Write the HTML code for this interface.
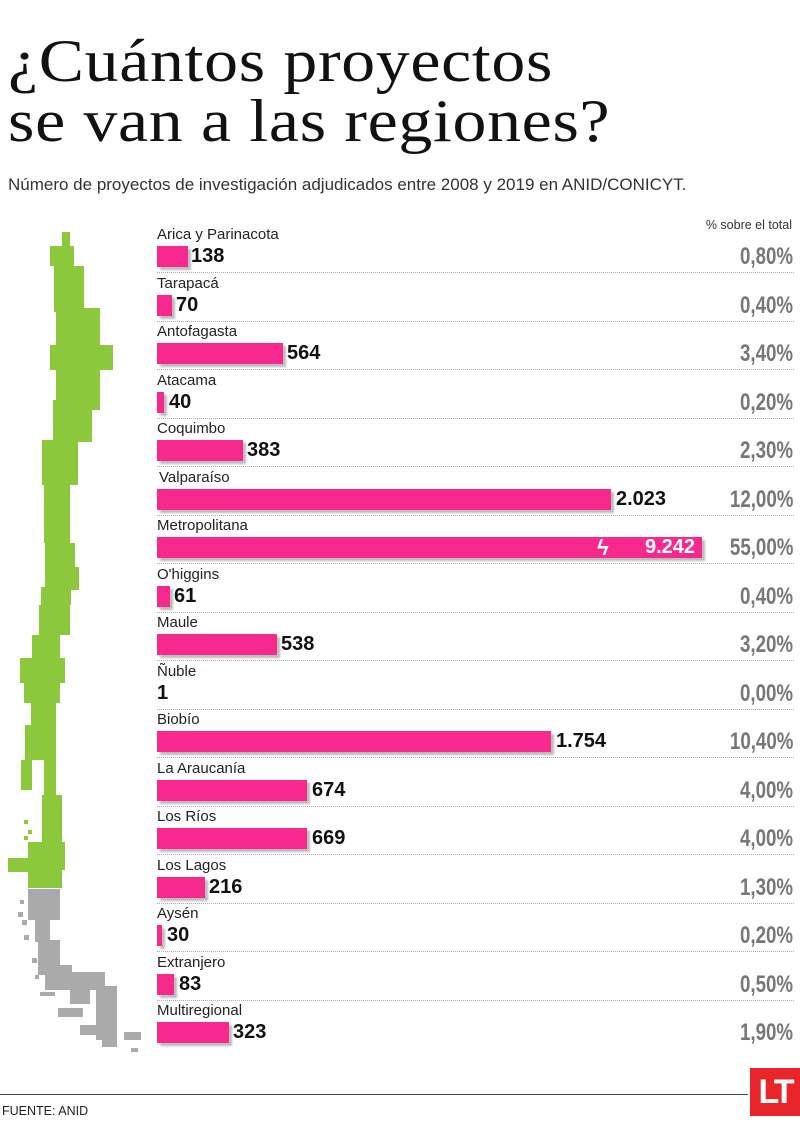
<!DOCTYPE html>
<html><head><meta charset="utf-8"><style>
body{margin:0;width:800px;height:1136px;background:#fff;position:relative;overflow:hidden;font-family:"Liberation Sans",sans-serif}
.t{position:absolute;left:8px;font-family:"Liberation Serif",serif;font-size:60px;color:#111;letter-spacing:0.6px;line-height:1;transform:scaleX(1.13);transform-origin:left;white-space:nowrap}
.sub{position:absolute;left:8px;top:175px;font-size:17px;color:#333;white-space:nowrap}
.lab{position:absolute;left:157px;font-size:15px;color:#222}
.bar{position:absolute;left:157px;height:21px;background:#f7288e;box-shadow:3px 3px 2px #bbb}
.val{position:absolute;font-size:20px;font-weight:bold;color:#111}
.pct{position:absolute;right:7px;font-family:"Liberation Sans Narrow","Liberation Sans",sans-serif;font-size:24px;font-weight:bold;color:#777;transform:scaleX(0.78);transform-origin:right}
.sep{position:absolute;left:157px;right:6px;border-top:1px dotted #aaa}
.m{position:absolute;background:#8cc83c}
.g{position:absolute;background:#aaa}
</style></head><body>
<div class="t" style="top:31px">¿Cuántos proyectos</div>
<div class="t" style="top:91px">se van a las regiones?</div>
<div class="sub">Número de proyectos de investigación adjudicados entre 2008 y 2019 en ANID/CONICYT.</div>
<div style="position:absolute;right:8px;top:218px;font-size:12.5px;color:#333">% sobre el total</div>

<!-- map -->
<div class="m" style="left:62px;top:232px;width:8px;height:16px"></div>
<div class="m" style="left:50px;top:246px;width:24px;height:20px"></div>
<div class="m" style="left:54px;top:266px;width:30px;height:46px"></div>
<div class="m" style="left:56px;top:308px;width:44px;height:40px"></div>
<div class="m" style="left:50px;top:345px;width:63px;height:25px"></div>
<div class="m" style="left:56px;top:370px;width:44px;height:40px"></div>
<div class="m" style="left:53px;top:400px;width:39px;height:42px"></div>
<div class="m" style="left:42px;top:440px;width:36px;height:45px"></div>
<div class="m" style="left:44px;top:485px;width:26px;height:58px"></div>
<div class="m" style="left:45px;top:543px;width:30px;height:47px"></div>
<div class="m" style="left:49px;top:567px;width:30px;height:23px"></div>
<div class="m" style="left:41px;top:587px;width:30px;height:18px"></div>
<div class="m" style="left:39px;top:605px;width:31px;height:30px"></div>
<div class="m" style="left:32px;top:635px;width:28px;height:25px"></div>
<div class="m" style="left:20px;top:658px;width:45px;height:25px"></div>
<div class="m" style="left:24px;top:683px;width:36px;height:20px"></div>
<div class="m" style="left:31px;top:703px;width:25px;height:32px"></div>
<div class="m" style="left:25px;top:725px;width:31px;height:35px"></div>
<div class="m" style="left:44px;top:750px;width:12px;height:50px"></div>
<div class="m" style="left:21px;top:760px;width:11px;height:30px"></div>
<div class="m" style="left:42px;top:795px;width:20px;height:47px"></div>
<div class="m" style="left:28px;top:842px;width:37px;height:28px"></div>
<div class="m" style="left:8px;top:858px;width:52px;height:14px"></div>
<div class="m" style="left:28px;top:870px;width:34px;height:18px"></div>
<div class="m" style="left:24px;top:820px;width:4px;height:4px"></div>
<div class="m" style="left:28px;top:830px;width:4px;height:4px"></div>
<div class="m" style="left:24px;top:836px;width:4px;height:4px"></div>
<!-- gray -->
<div class="g" style="left:28px;top:889px;width:32px;height:31px"></div>
<div class="g" style="left:35px;top:920px;width:15px;height:22px"></div>
<div class="g" style="left:38px;top:940px;width:22px;height:35px"></div>
<div class="g" style="left:45px;top:965px;width:27px;height:25px"></div>
<div class="g" style="left:60px;top:972px;width:45px;height:18px"></div>
<div class="g" style="left:96px;top:986px;width:21px;height:54px"></div>
<div class="g" style="left:70px;top:990px;width:20px;height:14px"></div>
<div class="g" style="left:58px;top:1008px;width:25px;height:9px"></div>
<div class="g" style="left:80px;top:1025px;width:37px;height:10px"></div>
<div class="g" style="left:102px;top:1035px;width:15px;height:12px"></div>
<div class="g" style="left:124px;top:1032px;width:17px;height:8px"></div>
<div class="g" style="left:131px;top:1048px;width:7px;height:4px"></div>
<div class="g" style="left:20px;top:900px;width:4px;height:4px"></div>
<div class="g" style="left:18px;top:912px;width:5px;height:5px"></div>
<div class="g" style="left:22px;top:920px;width:5px;height:5px"></div>
<div class="g" style="left:24px;top:935px;width:5px;height:5px"></div>
<div class="g" style="left:32px;top:958px;width:5px;height:5px"></div>
<div class="g" style="left:35px;top:975px;width:4px;height:4px"></div>
<div class="g" style="left:40px;top:992px;width:15px;height:4px"></div>

<!-- rows -->
<div class="lab" style="top:226px">Arica y Parinacota</div><div class="bar" style="top:246px;width:31px"></div><div class="val" style="left:191px;top:245px">138</div><div class="pct" style="top:243px">0,80%</div><div class="sep" style="top:272px"></div>
<div class="lab" style="top:275px">Tarapacá</div><div class="bar" style="top:295px;width:15px"></div><div class="val" style="left:176px;top:294px">70</div><div class="pct" style="top:292px">0,40%</div><div class="sep" style="top:321px"></div>
<div class="lab" style="top:323px">Antofagasta</div><div class="bar" style="top:343px;width:126px"></div><div class="val" style="left:287px;top:342px">564</div><div class="pct" style="top:340px">3,40%</div><div class="sep" style="top:369px"></div>
<div class="lab" style="top:372px">Atacama</div><div class="bar" style="top:392px;width:7px"></div><div class="val" style="left:169px;top:391px">40</div><div class="pct" style="top:389px">0,20%</div><div class="sep" style="top:418px"></div>
<div class="lab" style="top:420px">Coquimbo</div><div class="bar" style="top:440px;width:86px"></div><div class="val" style="left:247px;top:439px">383</div><div class="pct" style="top:437px">2,30%</div><div class="sep" style="top:466px"></div>
<div class="lab" style="top:469px;left:159px">Valparaíso</div><div class="bar" style="top:489px;width:454px"></div><div class="val" style="left:616px;top:488px">2.023</div><div class="pct" style="top:486px">12,00%</div><div class="sep" style="top:515px"></div>
<div class="lab" style="top:517px">Metropolitana</div><div class="bar" style="top:537px;width:545px"></div><div class="val" style="left:645px;top:536px;color:#fff">9.242</div><div style="position:absolute;left:597px;top:535px;color:#fff;font-size:22px;font-weight:bold">ϟ</div><div class="pct" style="top:534px">55,00%</div><div class="sep" style="top:563px"></div>
<div class="lab" style="top:566px">O'higgins</div><div class="bar" style="top:586px;width:13px"></div><div class="val" style="left:174px;top:585px">61</div><div class="pct" style="top:583px">0,40%</div><div class="sep" style="top:612px"></div>
<div class="lab" style="top:614px">Maule</div><div class="bar" style="top:634px;width:120px"></div><div class="val" style="left:281px;top:633px">538</div><div class="pct" style="top:631px">3,20%</div><div class="sep" style="top:660px"></div>
<div class="lab" style="top:663px">Ñuble</div><div class="val" style="left:157px;top:682px">1</div><div class="pct" style="top:680px">0,00%</div><div class="sep" style="top:709px"></div>
<div class="lab" style="top:711px">Biobío</div><div class="bar" style="top:731px;width:394px"></div><div class="val" style="left:556px;top:730px">1.754</div><div class="pct" style="top:728px">10,40%</div><div class="sep" style="top:757px"></div>
<div class="lab" style="top:760px">La Araucanía</div><div class="bar" style="top:780px;width:150px"></div><div class="val" style="left:312px;top:779px">674</div><div class="pct" style="top:777px">4,00%</div><div class="sep" style="top:806px"></div>
<div class="lab" style="top:808px">Los Ríos</div><div class="bar" style="top:828px;width:150px"></div><div class="val" style="left:312px;top:827px">669</div><div class="pct" style="top:825px">4,00%</div><div class="sep" style="top:854px"></div>
<div class="lab" style="top:857px">Los Lagos</div><div class="bar" style="top:877px;width:48px"></div><div class="val" style="left:209px;top:876px">216</div><div class="pct" style="top:874px">1,30%</div><div class="sep" style="top:903px"></div>
<div class="lab" style="top:905px">Aysén</div><div class="bar" style="top:925px;width:5px"></div><div class="val" style="left:167px;top:924px">30</div><div class="pct" style="top:922px">0,20%</div><div class="sep" style="top:951px"></div>
<div class="lab" style="top:954px">Extranjero</div><div class="bar" style="top:974px;width:17px"></div><div class="val" style="left:179px;top:973px">83</div><div class="pct" style="top:971px">0,50%</div><div class="sep" style="top:1000px"></div>
<div class="lab" style="top:1002px">Multiregional</div><div class="bar" style="top:1022px;width:72px"></div><div class="val" style="left:233px;top:1021px">323</div><div class="pct" style="top:1019px">1,90%</div>

<div style="position:absolute;left:0;width:748px;top:1094px;border-top:1.5px solid #444"></div>
<div style="position:absolute;left:2px;top:1104px;font-size:12.5px;color:#222">FUENTE: ANID</div>
<div style="position:absolute;left:750px;top:1068px;width:50px;height:48px;background:#e8262a;color:#fff;font-weight:bold;font-size:34px;line-height:48px;text-align:center;letter-spacing:-3px">LT</div>
</body></html>
